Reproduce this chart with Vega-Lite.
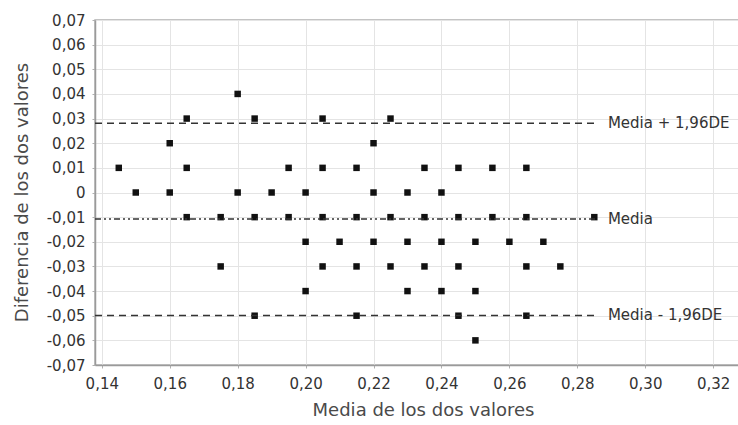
{
  "$schema": "https://vega.github.io/schema/vega-lite/v6.json",
  "autosize": {"type": "none"},
  "padding": {"left": 95, "top": 20, "right": 0, "bottom": 60},
  "width": 644,
  "height": 345,
  "config": {
    "font": "DejaVu Sans",
    "view": {"stroke": "#b0b0b0", "strokeWidth": 1.5},
    "axis": {
      "gridColor": "#e4e4e4",
      "gridWidth": 1,
      "domainColor": "#9a9a9a",
      "domainWidth": 1.5,
      "tickColor": "#b0b0b0",
      "tickSize": 3,
      "labelFont": "DejaVu Sans",
      "labelFontSize": 15,
      "labelColor": "#333333",
      "labelOverlap": false,
      "labelFlush": false,
      "titleFont": "DejaVu Sans",
      "titleFontSize": 18,
      "titleFontWeight": "normal",
      "titleColor": "#4a4a4a"
    }
  },
  "layer": [
    {
      "data": {"values": [
        {"media": 0.18, "dif": 0.04},
        {"media": 0.165, "dif": 0.03}, {"media": 0.185, "dif": 0.03}, {"media": 0.205, "dif": 0.03}, {"media": 0.225, "dif": 0.03},
        {"media": 0.16, "dif": 0.02}, {"media": 0.22, "dif": 0.02},
        {"media": 0.145, "dif": 0.01}, {"media": 0.165, "dif": 0.01}, {"media": 0.195, "dif": 0.01}, {"media": 0.205, "dif": 0.01}, {"media": 0.215, "dif": 0.01}, {"media": 0.235, "dif": 0.01}, {"media": 0.245, "dif": 0.01}, {"media": 0.255, "dif": 0.01}, {"media": 0.265, "dif": 0.01},
        {"media": 0.15, "dif": 0}, {"media": 0.16, "dif": 0}, {"media": 0.18, "dif": 0}, {"media": 0.19, "dif": 0}, {"media": 0.20, "dif": 0}, {"media": 0.22, "dif": 0}, {"media": 0.23, "dif": 0}, {"media": 0.24, "dif": 0},
        {"media": 0.165, "dif": -0.01}, {"media": 0.175, "dif": -0.01}, {"media": 0.185, "dif": -0.01}, {"media": 0.195, "dif": -0.01}, {"media": 0.205, "dif": -0.01}, {"media": 0.215, "dif": -0.01}, {"media": 0.225, "dif": -0.01}, {"media": 0.235, "dif": -0.01}, {"media": 0.245, "dif": -0.01}, {"media": 0.255, "dif": -0.01}, {"media": 0.265, "dif": -0.01}, {"media": 0.285, "dif": -0.01},
        {"media": 0.20, "dif": -0.02}, {"media": 0.21, "dif": -0.02}, {"media": 0.22, "dif": -0.02}, {"media": 0.23, "dif": -0.02}, {"media": 0.24, "dif": -0.02}, {"media": 0.25, "dif": -0.02}, {"media": 0.26, "dif": -0.02}, {"media": 0.27, "dif": -0.02},
        {"media": 0.175, "dif": -0.03}, {"media": 0.205, "dif": -0.03}, {"media": 0.215, "dif": -0.03}, {"media": 0.225, "dif": -0.03}, {"media": 0.235, "dif": -0.03}, {"media": 0.245, "dif": -0.03}, {"media": 0.265, "dif": -0.03}, {"media": 0.275, "dif": -0.03},
        {"media": 0.20, "dif": -0.04}, {"media": 0.23, "dif": -0.04}, {"media": 0.24, "dif": -0.04}, {"media": 0.25, "dif": -0.04},
        {"media": 0.185, "dif": -0.05}, {"media": 0.215, "dif": -0.05}, {"media": 0.245, "dif": -0.05}, {"media": 0.265, "dif": -0.05},
        {"media": 0.25, "dif": -0.06}
      ]},
      "mark": {"type": "point", "shape": "square", "filled": true, "size": 42, "color": "#111111", "opacity": 1},
      "encoding": {
        "x": {
          "field": "media", "type": "quantitative",
          "scale": {"domain": [0.138, 0.3276], "nice": false, "zero": false},
          "axis": {
            "values": [0.14, 0.16, 0.18, 0.20, 0.22, 0.24, 0.26, 0.28, 0.30, 0.32],
            "tickCount": 20,
            "labelOverlap": false,
            "labelExpr": "replace(format(datum.value, '.2f'), '.', ',')",
            "labelPadding": 8,
            "title": "Media de los dos valores",
            "titleX": 328,
            "titleY": 45,
            "titleBaseline": "middle",
            "titleAlign": "center"
          }
        },
        "y": {
          "field": "dif", "type": "quantitative",
          "scale": {"domain": [-0.07, 0.07], "nice": false, "zero": false},
          "axis": {
            "values": [-0.07, -0.06, -0.05, -0.04, -0.03, -0.02, -0.01, 0, 0.01, 0.02, 0.03, 0.04, 0.05, 0.06, 0.07],
            "tickCount": 30,
            "labelOverlap": false,
            "labelExpr": "abs(datum.value) < 1e-9 ? '0' : (datum.value < 0 ? '-' : '') + replace(format(abs(datum.value), '.2f'), '.', ',')",
            "labelPadding": 7,
            "title": "Diferencia de los dos valores",
            "titleX": -73,
            "titleY": 172,
            "titleBaseline": "middle",
            "titleAlign": "center"
          }
        }
      }
    },
    {
      "data": {"values": [
        {"x1": 0.138, "x2": 0.2858, "y": 0.0281},
        {"x1": 0.138, "x2": 0.2858, "y": -0.0499}
      ]},
      "mark": {"type": "rule", "color": "#333333", "strokeWidth": 1.5, "strokeDash": [7, 5]},
      "encoding": {
        "x": {"field": "x1", "type": "quantitative"},
        "x2": {"field": "x2"},
        "y": {"field": "y", "type": "quantitative"}
      }
    },
    {
      "data": {"values": [
        {"x1": 0.138, "x2": 0.2858, "y": -0.0108}
      ]},
      "mark": {"type": "rule", "color": "#333333", "strokeWidth": 1.5, "strokeDash": [6, 3, 2, 3, 2, 3]},
      "encoding": {
        "x": {"field": "x1", "type": "quantitative"},
        "x2": {"field": "x2"},
        "y": {"field": "y", "type": "quantitative"}
      }
    },
    {
      "data": {"values": [
        {"x": 0.289, "y": 0.0281, "label": "Media + 1,96DE"},
        {"x": 0.289, "y": -0.0108, "label": "Media"},
        {"x": 0.289, "y": -0.0499, "label": "Media - 1,96DE"}
      ]},
      "mark": {"type": "text", "align": "left", "baseline": "middle", "fontSize": 15, "color": "#333333", "font": "DejaVu Sans"},
      "encoding": {
        "x": {"field": "x", "type": "quantitative"},
        "y": {"field": "y", "type": "quantitative"},
        "text": {"field": "label"}
      }
    }
  ]
}
